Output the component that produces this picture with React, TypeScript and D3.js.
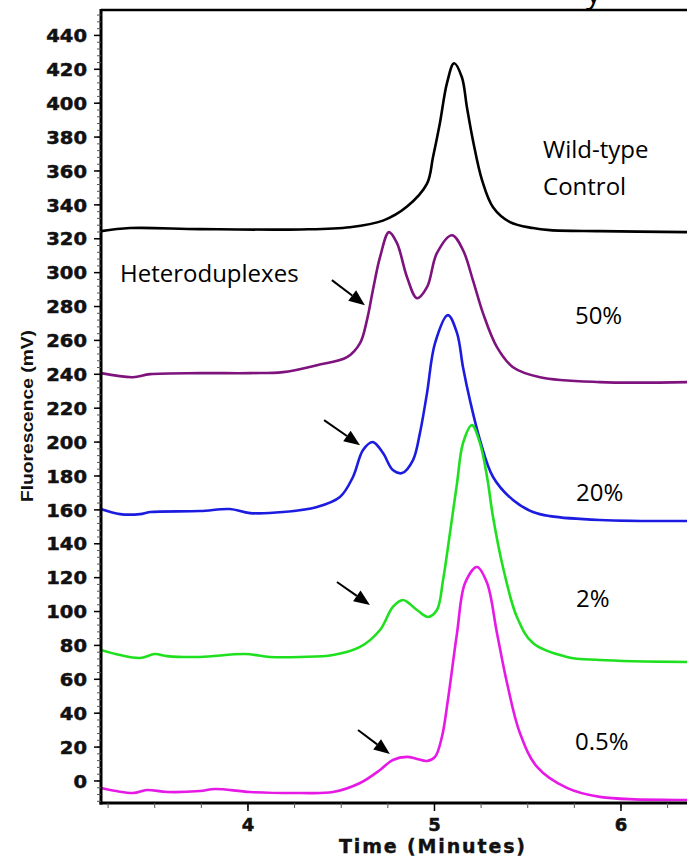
import React from "react";
import * as d3 from "d3";

// ---- Data (time in minutes, fluorescence in mV) ----
const wildTypeTime = [3.212, 3.367, 3.743, 4.279, 4.547, 4.724, 4.853, 4.96, 4.992, 5.029, 5.067, 5.105, 5.147, 5.174, 5.206, 5.255, 5.314, 5.405, 5.528, 5.619, 5.887, 6.354];
const wildTypeValue = [324.5, 326.3, 325.7, 325.5, 326.8, 330.7, 339.0, 352.5, 368.1, 388.2, 411.8, 423.6, 415.3, 397.6, 378.2, 354.6, 338.6, 329.8, 326.3, 325.1, 324.5, 323.9];

const p50Time = [3.212, 3.383, 3.475, 3.743, 4.011, 4.188, 4.37, 4.531, 4.601, 4.638, 4.67, 4.708, 4.756, 4.799, 4.853, 4.906, 4.96, 5.013, 5.094, 5.153, 5.206, 5.26, 5.335, 5.421, 5.566, 5.887, 6.354];
const p50Value = [240.7, 238.3, 240.1, 240.7, 240.7, 241.3, 245.4, 250.1, 258.4, 272.0, 289.7, 309.1, 323.9, 317.4, 297.3, 284.9, 291.4, 311.5, 322.1, 313.3, 295.6, 276.1, 256.0, 244.2, 238.3, 235.4, 235.4];

const p20Time = [3.212, 3.314, 3.421, 3.475, 3.743, 3.903, 4.011, 4.188, 4.37, 4.493, 4.563, 4.617, 4.67, 4.724, 4.777, 4.826, 4.885, 4.922, 4.96, 5.003, 5.072, 5.121, 5.153, 5.19, 5.244, 5.314, 5.421, 5.528, 5.619, 5.887, 6.354];
const p20Value = [160.5, 157.5, 157.5, 158.7, 159.3, 160.5, 158.1, 158.7, 161.7, 167.6, 179.4, 195.3, 200.0, 193.5, 183.5, 181.7, 189.4, 205.3, 228.9, 258.4, 274.9, 264.3, 244.2, 224.8, 201.2, 179.4, 165.8, 158.7, 156.3, 154.0, 153.4];

const p2Time = [3.212, 3.314, 3.421, 3.501, 3.566, 3.743, 3.984, 4.118, 4.279, 4.456, 4.601, 4.708, 4.777, 4.831, 4.906, 4.965, 5.013, 5.046, 5.083, 5.121, 5.153, 5.201, 5.244, 5.282, 5.314, 5.367, 5.442, 5.528, 5.71, 5.887, 6.354];
const p2Value = [77.3, 74.3, 72.6, 74.9, 73.7, 73.2, 74.9, 73.2, 73.2, 74.3, 79.1, 89.1, 102.7, 106.8, 100.9, 96.8, 100.9, 118.6, 146.3, 175.8, 199.4, 210.0, 199.4, 179.4, 155.8, 126.3, 96.8, 81.4, 73.2, 71.4, 70.2];

const p05Time = [3.212, 3.383, 3.458, 3.566, 3.743, 3.823, 4.011, 4.279, 4.456, 4.601, 4.708, 4.777, 4.853, 4.906, 4.96, 5.003, 5.04, 5.072, 5.121, 5.164, 5.228, 5.282, 5.335, 5.389, 5.458, 5.55, 5.71, 5.887, 6.354];
const p05Value = [-4.1, -7.1, -5.3, -6.5, -5.9, -4.7, -6.5, -7.1, -6.5, -1.2, 6.5, 12.4, 14.2, 13.0, 11.8, 14.2, 26.0, 47.8, 87.3, 116.8, 126.3, 116.8, 87.3, 57.8, 28.3, 8.3, -4.1, -9.4, -11.2];

const seriesNames = ["Wild-type Control", "50%", "20%", "2%", "0.5%"];
const seriesColors = ["#000000", "#7e137e", "#1c1ce0", "#1fe01f", "#e619e6"];

const yMajorTicks = [0, 20, 40, 60, 80, 100, 120, 140, 160, 180, 200, 220, 240, 260, 280, 300, 320, 340, 360, 380, 400, 420, 440];
const xMajorTicks = [4, 5, 6];
const xTickLabels = ["4", "5", "6"];

// labels: [text, time, mV]
const labelTexts = ["Wild-type", "Control", "Heteroduplexes", "50%", "20%", "2%", "0.5%"];
const labelTimes = [5.582, 5.582, 3.314, 5.753, 5.759, 5.759, 5.753];
const labelValues = [367.6, 345.7, 294.4, 269.5, 165.2, 102.7, 18.3];

// arrows: from (t0,v0) to tip (t1,v1)
const arrowFromT = [4.45, 4.408, 4.477, 4.59];
const arrowFromV = [295.6, 213.0, 117.4, 30.1];
const arrowToT = [4.627, 4.601, 4.654, 4.761];
const arrowToV = [280.8, 198.2, 103.8, 15.9];

const W = 687;
const H = 857;

export default function App() {
  const left = 101, right = 687, top = 10, bottom = 803;
  const x = d3.scaleLinear().domain([3.212, 6.354]).range([left, right]);
  const y = d3.scaleLinear().domain([-13, 455]).range([bottom, top]);

  const series = [
    [wildTypeTime, wildTypeValue],
    [p50Time, p50Value],
    [p20Time, p20Value],
    [p2Time, p2Value],
    [p05Time, p05Value],
  ];

  const line = d3
    .line<[number, number]>()
    .x((d) => x(d[0]))
    .y((d) => y(d[1]))
    .curve(d3.curveCatmullRom.alpha(0.5));

  const yMinor = d3.range(-12, 453, 4);
  const xMinor = d3.range(3.25, 6.35, 0.25);

  const tickFont = "'DejaVu Sans', Verdana, sans-serif";
  const annFont = "'Open Sans', Lato, sans-serif";

  return (
    <svg
      width={W}
      height={H}
      viewBox={`0 0 ${W} ${H}`}
      style={{ position: "absolute", left: 0, top: 0, background: "#fff" }}
    >
      <defs>
        <clipPath id="plotclip">
          <rect x={left} y={top} width={right - left} height={bottom - top} />
        </clipPath>
      </defs>
      <rect x={0} y={0} width={W} height={H} fill="#fff" />

      {/* cut-off title glyph */}
      <text x={586} y={3} fontFamily={annFont} fontSize={30} fill="#000">y</text>

      {/* curves */}
      <g clipPath="url(#plotclip)">
        {series.map(([ts, vs], i) => (
          <path
            key={seriesNames[i]}
            d={line(ts.map((t, j) => [t, vs[j]] as [number, number])) || ""}
            fill="none"
            stroke={seriesColors[i]}
            strokeWidth={2.6}
            strokeLinejoin="round"
          />
        ))}
      </g>

      {/* frame */}
      <line x1={left} x2={right} y1={top} y2={top} stroke="#000" strokeWidth={2.5} />
      <line x1={left} x2={left} y1={top - 1} y2={bottom + 1.5} stroke="#000" strokeWidth={3} />
      <line x1={left - 1.5} x2={right} y1={bottom} y2={bottom} stroke="#000" strokeWidth={3} />

      {/* y ticks */}
      {yMinor.map((v) => (
        <line key={"ym" + v} x1={left - 4} x2={left} y1={y(v)} y2={y(v)} stroke="#555" strokeWidth={1} />
      ))}
      {yMajorTicks.map((v) => (
        <g key={"yM" + v}>
          <line x1={left - 7} x2={left} y1={y(v)} y2={y(v)} stroke="#000" strokeWidth={1.5} />
          <text
            x={87}
            y={y(v)}
            dy="0.37em"
            textAnchor="end"
            fontFamily={tickFont}
            fontWeight="bold"
            fontSize={18}
            stroke="#111"
            strokeWidth={0.5}
            textLength={String(v).length * 13.6}
            lengthAdjust="spacingAndGlyphs"
            fill="#111"
          >
            {v}
          </text>
        </g>
      ))}

      {/* x ticks */}
      {xMinor.map((t) => (
        <line key={"xm" + t} x1={x(t)} x2={x(t)} y1={bottom} y2={bottom + 5} stroke="#555" strokeWidth={1} />
      ))}
      {xMajorTicks.map((t, i) => (
        <g key={"xM" + t}>
          <line x1={x(t)} x2={x(t)} y1={bottom} y2={bottom + 8} stroke="#000" strokeWidth={1.5} />
          <text
            x={x(t)}
            y={831}
            textAnchor="middle"
            fontFamily={tickFont}
            fontWeight="bold"
            fontSize={18}
            stroke="#111"
            strokeWidth={0.5}
            fill="#111"
          >
            {xTickLabels[i]}
          </text>
        </g>
      ))}

      {/* axis titles */}
      <text
        x={432}
        y={853}
        textAnchor="middle"
        fontFamily={tickFont}
        fontWeight="bold"
        fontSize={19}
        stroke="#111"
        strokeWidth={0.4}
        textLength={186}
        lengthAdjust="spacing"
        fill="#111"
      >
        Time (Minutes)
      </text>
      <text
        transform={`translate(33,416) rotate(-90)`}
        textAnchor="middle"
        fontFamily="'Liberation Sans', Arial, sans-serif"
        fontWeight="bold"
        fontSize={17}
        textLength={172}
        lengthAdjust="spacingAndGlyphs"
        fill="#111"
      >
        Fluorescence (mV)
      </text>

      {/* annotations */}
      {labelTexts.map((s, i) => (
        <text
          key={s}
          x={x(labelTimes[i])}
          y={y(labelValues[i])}
          fontFamily={annFont}
          fontSize={24}
          fill="#000"
        >
          {s}
        </text>
      ))}

      {arrowFromT.map((t0, i) => {
        const x0 = x(t0), y0 = y(arrowFromV[i]);
        const x1 = x(arrowToT[i]), y1 = y(arrowToV[i]);
        const ang = Math.atan2(y1 - y0, x1 - x0);
        const L = 16, hw = 6.5;
        const bx = x1 - L * Math.cos(ang), by = y1 - L * Math.sin(ang);
        const px = -Math.sin(ang) * hw, py = Math.cos(ang) * hw;
        return (
          <g key={"arr" + i}>
            <line x1={x0} y1={y0} x2={bx} y2={by} stroke="#000" strokeWidth={2} />
            <polygon points={`${x1},${y1} ${bx + px},${by + py} ${bx - px},${by - py}`} fill="#000" />
          </g>
        );
      })}
    </svg>
  );
}
